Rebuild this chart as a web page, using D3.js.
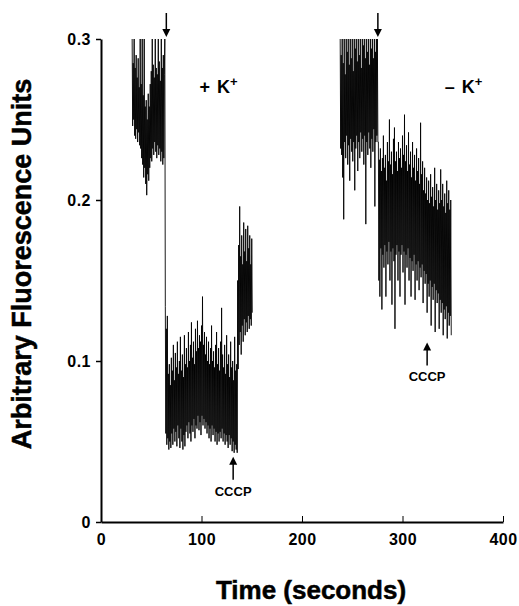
<!DOCTYPE html>
<html>
<head>
<meta charset="utf-8">
<script src="https://cdn.jsdelivr.net/npm/d3@7"></script>
<style>
  body { margin: 0; background: #fff; }
  svg { font-family: "Liberation Sans", Arial, sans-serif; font-weight: bold; }
  .axis path, .axis line { stroke: #000; }
  .axis text { font-size: 16px; font-weight: bold; fill: #000; font-family: "Liberation Sans", Arial, sans-serif; letter-spacing: 0.5px; }
</style>
</head>
<body>
<div id="chart"></div>
<script>
var width = 519,
    height = 606;

// fluorescence trace, one value every half second (alternating high / low excursions)
var sampleStep = 0.5;

// + K+ run
var plusStart = 31;
var plusBefore = [
  0.300,0.246, 0.285,0.250, 0.300,0.240, 0.282,0.238, 0.290,0.244, 0.276,0.236,
  0.288,0.242, 0.270,0.234, 0.300,0.232, 0.272,0.226, 0.300,0.222, 0.265,0.214,
  0.300,0.220, 0.258,0.210, 0.262,0.203, 0.250,0.216, 0.266,0.212, 0.258,0.220,
  0.272,0.226, 0.280,0.224, 0.300,0.232, 0.284,0.228, 0.276,0.236, 0.300,0.230,
  0.282,0.226, 0.278,0.234, 0.300,0.228, 0.286,0.232, 0.274,0.224, 0.300,0.230,
  0.282,0.222, 0.290,0.226, 0.278,0.300
];
var plusAfter = [
  0.134,0.055, 0.120,0.048, 0.128,0.052, 0.092,0.045, 0.098,0.050, 0.085,0.046,
  0.102,0.055, 0.094,0.048, 0.110,0.058, 0.088,0.050, 0.105,0.056, 0.096,0.047,
  0.112,0.060, 0.092,0.052, 0.100,0.046, 0.115,0.058, 0.094,0.050, 0.104,0.045,
  0.090,0.054, 0.116,0.047, 0.098,0.056, 0.108,0.060, 0.096,0.052, 0.118,0.062,
  0.100,0.055, 0.110,0.050, 0.124,0.060, 0.102,0.056, 0.112,0.064, 0.098,0.052,
  0.120,0.060, 0.106,0.058, 0.125,0.066, 0.108,0.057, 0.116,0.062, 0.112,0.054,
  0.122,0.066, 0.140,0.060, 0.110,0.064, 0.118,0.058, 0.104,0.062, 0.115,0.055,
  0.100,0.060, 0.112,0.052, 0.098,0.058, 0.108,0.050, 0.122,0.060, 0.100,0.054,
  0.106,0.058, 0.096,0.050, 0.110,0.056, 0.118,0.048, 0.098,0.055, 0.108,0.050,
  0.094,0.056, 0.112,0.052, 0.133,0.058, 0.104,0.050, 0.096,0.055, 0.110,0.048,
  0.092,0.054, 0.116,0.050, 0.098,0.046, 0.104,0.054, 0.090,0.048, 0.112,0.052,
  0.096,0.044, 0.100,0.050, 0.088,0.043, 0.115,0.048, 0.094,0.045, 0.098,0.043
];
var plusCccp = [
  0.150,0.095, 0.172,0.110, 0.196,0.118, 0.165,0.104, 0.178,0.122, 0.160,0.112,
  0.186,0.126, 0.168,0.116, 0.182,0.124, 0.162,0.118, 0.184,0.128, 0.170,0.120,
  0.178,0.126, 0.160,0.122, 0.176,0.130
];

// - K+ run
var minusStart = 238;
var minusBefore = [
  0.300,0.232, 0.290,0.228, 0.300,0.214, 0.285,0.188, 0.300,0.236, 0.278,0.226,
  0.300,0.240, 0.292,0.222, 0.300,0.234, 0.284,0.212, 0.300,0.238, 0.288,0.230,
  0.300,0.224, 0.280,0.236, 0.300,0.206, 0.294,0.232, 0.300,0.240, 0.286,0.218,
  0.300,0.236, 0.290,0.226, 0.300,0.242, 0.282,0.230, 0.300,0.238, 0.296,0.222,
  0.300,0.240, 0.288,0.185, 0.300,0.236, 0.292,0.228, 0.300,0.242, 0.284,0.232,
  0.300,0.220, 0.294,0.238, 0.300,0.230, 0.288,0.244, 0.300,0.196, 0.292,0.236,
  0.300,0.240, 0.300,0.236
];
var minusAfter = [
  0.236,0.150, 0.225,0.140, 0.232,0.170, 0.218,0.132, 0.226,0.166, 0.240,0.158,
  0.220,0.172, 0.228,0.140, 0.212,0.168, 0.236,0.160, 0.224,0.174, 0.250,0.150,
  0.222,0.168, 0.230,0.135, 0.216,0.170, 0.238,0.162, 0.245,0.120, 0.224,0.166,
  0.230,0.172, 0.218,0.150, 0.236,0.168, 0.226,0.140, 0.232,0.166, 0.220,0.172,
  0.240,0.155, 0.228,0.168, 0.253,0.135, 0.224,0.166, 0.234,0.158, 0.218,0.170,
  0.242,0.150, 0.222,0.164, 0.230,0.140, 0.214,0.162, 0.236,0.156, 0.220,0.166,
  0.228,0.138, 0.212,0.160, 0.232,0.150, 0.218,0.162, 0.226,0.144, 0.210,0.158,
  0.248,0.152, 0.216,0.160, 0.224,0.136, 0.206,0.156, 0.220,0.148, 0.204,0.154,
  0.214,0.130, 0.200,0.148, 0.212,0.140, 0.198,0.150, 0.216,0.122, 0.202,0.146,
  0.208,0.138, 0.196,0.148, 0.220,0.118, 0.200,0.144, 0.210,0.136, 0.194,0.142,
  0.206,0.120, 0.198,0.138, 0.219,0.130, 0.200,0.136, 0.210,0.116, 0.196,0.132,
  0.204,0.126, 0.192,0.134, 0.212,0.114, 0.198,0.130, 0.206,0.122, 0.194,0.128,
  0.200,0.116
];

// additions: K+ / valinomycin (down arrows), CCCP (up arrows)
var additionTimes = [65, 275.5];
var cccpTimes = [131.5, 324.5];
var cccpTips = [0.0405, 0.1115];
var conditionLabels = ["+ K", "\u2013 K"];
var conditionTimes = [98, 342];

var xTicks = [0, 100, 200, 300, 400],
    yTicks = [0, 0.1, 0.2, 0.3];

var x = d3.scaleLinear()
    .domain([0, 400])
    .range([101, 503]);

var y = d3.scaleLinear()
    .domain([0, 0.3])
    .range([522, 39]);

var svg = d3.select("#chart").append("svg")
    .attr("width", width)
    .attr("height", height);

function toPoints(start, values) {
  return values.map(function(v, i) { return [start + i * sampleStep, v]; });
}

var traces = [
  toPoints(plusStart, plusBefore.concat(plusAfter, plusCccp)),
  toPoints(minusStart, minusBefore.concat(minusAfter))
];

var line = d3.line()
    .x(function(d) { return x(d[0]); })
    .y(function(d) { return y(d[1]); });

svg.selectAll(".trace")
    .data(traces)
  .enter().append("path")
    .attr("class", "trace")
    .attr("d", line)
    .attr("fill", "none")
    .attr("stroke", "#000")
    .attr("stroke-width", 0.9);

// axes
svg.append("g")
    .attr("class", "axis")
    .attr("transform", "translate(0," + y(0) + ")")
    .call(d3.axisBottom(x)
      .tickValues(xTicks)
      .tickSizeInner(-6)
      .tickSizeOuter(0)
      .tickPadding(12)
      .tickFormat(d3.format("d")))
    .call(function(g) { g.select(".domain").attr("stroke-width", 2); });

svg.append("g")
    .attr("class", "axis")
    .attr("transform", "translate(" + x(0) + ",0)")
    .call(d3.axisLeft(y)
      .tickValues(yTicks)
      .tickSizeInner(5)
      .tickSizeOuter(0)
      .tickPadding(5)
      .tickFormat(function(d) { return d === 0 ? "0" : d3.format(".1f")(d); }))
    .call(function(g) {
      g.select(".domain").attr("stroke-width", 2);
      g.selectAll(".tick line").attr("stroke-width", 1.5);
    });

// axis titles
svg.append("text")
    .attr("x", 311)
    .attr("y", 599)
    .attr("text-anchor", "middle")
    .attr("stroke", "#000")
    .attr("stroke-width", 0.5)
    .style("font-size", "26px")
    .text("Time (seconds)");

svg.append("text")
    .attr("transform", "translate(31,264) rotate(-90)")
    .attr("text-anchor", "middle")
    .attr("stroke", "#000")
    .attr("stroke-width", 0.5)
    .style("font-size", "27px")
    .text("Arbitrary Fluorescence Units");

// arrows
var arrows = svg.append("g");

arrows.selectAll(".add")
    .data(additionTimes)
  .enter().append("g")
    .attr("class", "add")
    .attr("transform", function(d) { return "translate(" + x(d) + "," + (y(0.3) - 2) + ")"; })
    .each(function() {
      var g = d3.select(this);
      g.append("line").attr("y1", -24).attr("y2", -4).attr("stroke", "#000").attr("stroke-width", 1.5);
      g.append("path").attr("d", "M-4,-8L4,-8L0,0Z").attr("fill", "#000");
    });

arrows.selectAll(".cccp")
    .data(cccpTimes)
  .enter().append("g")
    .attr("class", "cccp")
    .attr("transform", function(d, i) { return "translate(" + x(d) + "," + y(cccpTips[i]) + ")"; })
    .each(function() {
      var g = d3.select(this);
      g.append("line").attr("y1", 4).attr("y2", 23).attr("stroke", "#000").attr("stroke-width", 1.5);
      g.append("path").attr("d", "M-4,8L4,8L0,0Z").attr("fill", "#000");
      g.append("text")
          .attr("y", 39)
          .attr("text-anchor", "middle")
          .style("font-size", "13px")
          .text("CCCP");
    });

// condition labels
var cond = svg.selectAll(".cond")
    .data(conditionLabels)
  .enter().append("text")
    .attr("class", "cond")
    .attr("x", function(d, i) { return x(conditionTimes[i]); })
    .attr("y", 93)
    .style("font-size", "18px")
    .style("word-spacing", "2px")
    .text(function(d) { return d; });

cond.append("tspan")
    .attr("dy", -7)
    .style("font-size", "13px")
    .text("+");
</script>
</body>
</html>
